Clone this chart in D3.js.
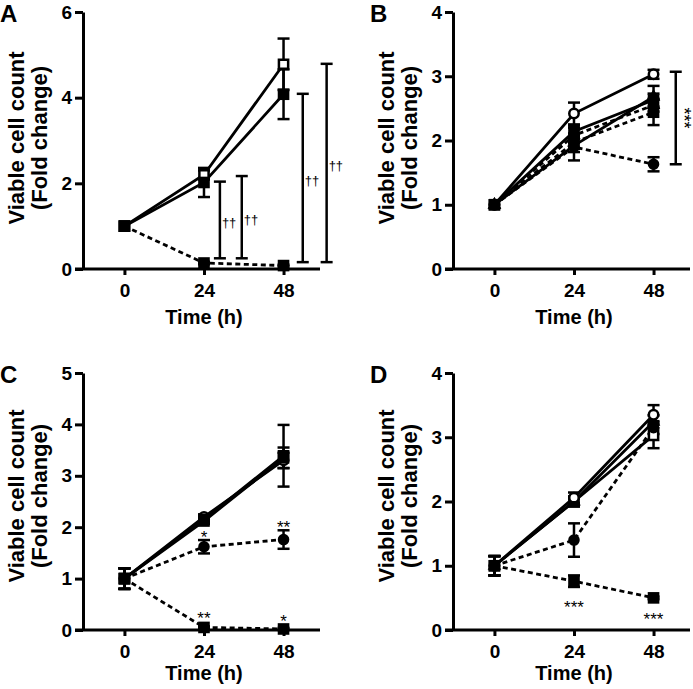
<!DOCTYPE html>
<html>
<head>
<meta charset="utf-8">
<script src="https://cdn.jsdelivr.net/npm/d3@7"></script>
<style>
  body { margin: 0; background: #fff; }
</style>
</head>
<body>
<div id="chart"></div>
<script>
// time points (h)
const hours = [0, 24, 48];

// Panel A
const aTicks = [0, 2, 4, 6];
const aOpenSq = [1, 2.2, 4.78],      aOpenSqErr = [0, 0.1, 0.6];
const aFilledSq = [1, 2.02, 4.08],   aFilledSqErr = [0, 0.34, 0.58];
const aSqDash = [1, 0.14, 0.08],     aSqDashErr = [0, 0.03, 0.02];
const aBracketX = [28.8, 35.4, 53.8, 61.0];
const aBracketLo = [0.25, 0.25, 0.16, 0.16];
const aBracketHi = [2.04, 2.17, 4.09, 4.79];

// Panel B
const bTicks = [0, 1, 2, 3, 4];
const bOpenCircle = [1, 2.42, 3.03],   bOpenCircleErr = [0, 0.17, 0.07];
const bFilledSq = [1, 2.14, 2.63],     bFilledSqErr = [0, 0.1, 0.1];
const bTriangle = [1, 1.92, 2.68],     bTriangleErr = [0, 0.1, 0.17];
const bTriangleDash = [1, 2.08, 2.55], bTriangleDashErr = [0, 0.12, 0.1];
const bSqDash = [1, 1.97, 2.44],       bSqDashErr = [0, 0.1, 0.2];
const bCircleDash = [1, 1.9, 1.63],    bCircleDashErr = [0, 0.21, 0.11];
const bBracketX = [54.7];
const bBracketLo = [1.63];
const bBracketHi = [3.07];

// Panel C
const cTicks = [0, 1, 2, 3, 4, 5];
const cOpenSq = [1, 2.15, 3.39],     cOpenSqErr = [0.2, 0.05, 0.6];
const cOpenCircle = [1, 2.2, 3.3],   cOpenCircleErr = [0.2, 0.05, 0.15];
const cFilledSq = [1, 2.12, 3.35],   cFilledSqErr = [0.2, 0.05, 0.2];
const cCircleDash = [1, 1.62, 1.76], cCircleDashErr = [0.2, 0.13, 0.18];
const cSqDash = [1, 0.05, 0.02],     cSqDashErr = [0.2, 0.02, 0.02];
const cStarX = [24, 48, 24, 48];
const cStarY = [1.89, 2.09, 0.31, 0.26];
const cStarText = ["*", "**", "**", "*"];

// Panel D
const dTicks = [0, 1, 2, 3, 4];
const dOpenCircle = [1, 2.06, 3.35], dOpenCircleErr = [0.15, 0.08, 0.15];
const dOpenSq = [1, 2.0, 3.03],      dOpenSqErr = [0.15, 0.08, 0.2];
const dTriangle = [1, 2.0, 3.24],    dTriangleErr = [0.15, 0.05, 0.1];
const dCircleDash = [1, 1.4, 3.15],  dCircleDashErr = [0.15, 0.26, 0.1];
const dSqDash = [1, 0.76, 0.5],      dSqDashErr = [0.15, 0.09, 0.02];
const dStarX = [24, 48];
const dStarY = [0.42, 0.23];
const dStarText = ["***", "***"];

const W = 693, H = 689;
const svg = d3.select("#chart").append("svg")
    .attr("width", W)
    .attr("height", H)
    .style("font-family", "Arial, 'Liberation Sans', sans-serif");

// one series: marker shape, open/filled, dashed line or not
const S = (mean, err, shape, open, dash) => ({ mean, err, shape, open, dash });

// drawn in order, so the last series ends up on top
const panels = [
  { letter: "A", left: 83, bottom: 269, ticks: aTicks, titleY: 138, timeY: 324,
    series: [
      S(aOpenSq, aOpenSqErr, "square", true, false),
      S(aFilledSq, aFilledSqErr, "square", false, false),
      S(aSqDash, aSqDashErr, "square", false, true)
    ],
    brackets: aBracketX.map((x, i) => ({ x, lo: aBracketLo[i], hi: aBracketHi[i], label: "††" })),
    stars: [] },
  { letter: "B", left: 453, bottom: 269, ticks: bTicks, titleY: 138, timeY: 324,
    series: [
      S(bOpenCircle, bOpenCircleErr, "circle", true, false),
      S(bTriangleDash, bTriangleDashErr, "triangle", false, true),
      S(bSqDash, bSqDashErr, "square", false, true),
      S(bCircleDash, bCircleDashErr, "circle", false, true),
      S(bTriangle, bTriangleErr, "triangle", false, false),
      S(bFilledSq, bFilledSqErr, "square", false, false)
    ],
    brackets: bBracketX.map((x, i) => ({ x, lo: bBracketLo[i], hi: bBracketHi[i], label: "***", rotate: true })),
    stars: [] },
  { letter: "C", left: 83, bottom: 630, ticks: cTicks, titleY: 496, timeY: 680,
    series: [
      S(cOpenCircle, cOpenCircleErr, "circle", true, false),
      S(cOpenSq, cOpenSqErr, "square", true, false),
      S(cCircleDash, cCircleDashErr, "circle", false, true),
      S(cSqDash, cSqDashErr, "square", false, true),
      S(cFilledSq, cFilledSqErr, "square", false, false)
    ],
    brackets: [],
    stars: cStarX.map((x, i) => ({ x, y: cStarY[i], t: cStarText[i] })) },
  { letter: "D", left: 453, bottom: 630, ticks: dTicks, titleY: 496, timeY: 680,
    series: [
      S(dOpenSq, dOpenSqErr, "square", true, false),
      S(dTriangle, dTriangleErr, "triangle", false, false),
      S(dOpenCircle, dOpenCircleErr, "circle", true, false),
      S(dSqDash, dSqDashErr, "square", false, true),
      S(dCircleDash, dCircleDashErr, "circle", false, true)
    ],
    brackets: [],
    stars: dStarX.map((x, i) => ({ x, y: dStarY[i], t: dStarText[i] })) }
];

const symbolFor = (shape, open) => {
  if (shape === "square") return d3.symbol(d3.symbolSquare, open ? 85 : 135);
  if (shape === "circle") return d3.symbol(d3.symbolCircle, open ? 70 : 105);
  return d3.symbol(d3.symbolTriangle, 80);
};

function drawPanel(p) {
  const x = d3.scaleLinear().domain([-12.5, 59]).range([p.left, p.left + 237]);
  const y = d3.scaleLinear().domain([0, d3.max(p.ticks)]).range([p.bottom, p.bottom - 257]);
  const g = svg.append("g");

  // panel letter
  g.append("text")
    .attr("x", p.left - 83)
    .attr("y", y.range()[1] + 10)
    .attr("font-size", 24)
    .attr("font-weight", "bold")
    .text(p.letter);

  // x axis
  g.append("g")
    .attr("transform", `translate(0,${p.bottom})`)
    .call(d3.axisBottom(x).tickValues(hours).tickSize(6).tickPadding(9))
    .call(a => a.select(".domain").remove())
    .call(a => a.selectAll(".tick line").attr("stroke", "#000").attr("stroke-width", 3))
    .call(a => a.selectAll(".tick text").attr("fill", "#000").attr("font-size", 19)
        .attr("font-weight", "bold").attr("font-family", null));
  g.append("line")
    .attr("x1", p.left - 8).attr("x2", x.range()[1])
    .attr("y1", p.bottom).attr("y2", p.bottom)
    .attr("stroke", "#000").attr("stroke-width", 3);

  // y axis
  g.append("g")
    .attr("transform", `translate(${p.left},0)`)
    .call(d3.axisLeft(y).tickValues(p.ticks).tickFormat(d3.format("d"))
        .tickSize(8).tickSizeOuter(0).tickPadding(3))
    .call(a => a.select(".domain").attr("stroke", "#000").attr("stroke-width", 3))
    .call(a => a.selectAll(".tick line").attr("stroke", "#000").attr("stroke-width", 3))
    .call(a => a.selectAll(".tick text").attr("fill", "#000").attr("font-size", 19)
        .attr("font-weight", "bold").attr("font-family", null));

  // axis titles
  [["Viable cell count", -59], ["(Fold change)", -36]].forEach(([t, dx]) => {
    g.append("text")
      .attr("transform", `translate(${p.left + dx},${p.titleY}) rotate(-90)`)
      .attr("text-anchor", "middle")
      .attr("font-size", 22)
      .attr("font-weight", "bold")
      .text(t);
  });
  g.append("text")
    .attr("x", x(24))
    .attr("y", p.timeY)
    .attr("text-anchor", "middle")
    .attr("font-size", 20)
    .attr("font-weight", "bold")
    .text("Time (h)");

  // lines
  const line = d3.line().x((d, i) => x(hours[i])).y(d => y(d));
  p.series.forEach(s => {
    g.append("path")
      .attr("d", line(s.mean))
      .attr("fill", "none")
      .attr("stroke", "#000")
      .attr("stroke-width", 2.8)
      .attr("stroke-dasharray", s.dash ? "5,3.5" : null);
  });

  // error bars
  p.series.forEach(s => {
    const eb = g.append("g").attr("stroke", "#000").attr("stroke-width", 2.5);
    s.mean.forEach((m, i) => {
      const e = s.err[i];
      if (!e) return;
      const cx = x(hours[i]);
      eb.append("line").attr("x1", cx).attr("x2", cx).attr("y1", y(m - e)).attr("y2", y(m + e));
      [m - e, m + e].forEach(v => {
        eb.append("line").attr("x1", cx - 6).attr("x2", cx + 6).attr("y1", y(v)).attr("y2", y(v));
      });
    });
  });

  // markers
  p.series.forEach(s => {
    g.append("g").selectAll("path")
      .data(s.mean)
      .join("path")
      .attr("transform", (d, i) => `translate(${x(hours[i])},${y(d)})`)
      .attr("d", symbolFor(s.shape, s.open))
      .attr("fill", s.open ? "#fff" : "#000")
      .attr("stroke", s.open ? "#000" : "none")
      .attr("stroke-width", 2.5);
  });

  // significance brackets
  p.brackets.forEach(b => {
    const bx = x(b.x);
    const bg = g.append("g").attr("stroke", "#000").attr("stroke-width", 2.5);
    bg.append("line").attr("x1", bx).attr("x2", bx).attr("y1", y(b.lo)).attr("y2", y(b.hi));
    [b.lo, b.hi].forEach(v => {
      bg.append("line").attr("x1", bx - 6).attr("x2", bx + 6).attr("y1", y(v)).attr("y2", y(v));
    });
    const mid = (y(b.lo) + y(b.hi)) / 2;
    if (b.rotate) {
      g.append("text")
        .attr("transform", `translate(${bx + 2},${mid}) rotate(90)`)
        .attr("text-anchor", "middle")
        .attr("font-size", 18)
        .attr("fill", "#000")
        .text(b.label);
    } else {
      g.append("text")
        .attr("x", bx + 2)
        .attr("y", mid + 7)
        .attr("font-size", 13)
        .attr("fill", "#000")
        .text(b.label);
    }
  });

  // asterisks
  p.stars.forEach(st => {
    g.append("text")
      .attr("x", x(st.x))
      .attr("y", y(st.y) + 10)
      .attr("text-anchor", "middle")
      .attr("font-size", 17)
      .attr("fill", "#000")
      .text(st.t);
  });
}

panels.forEach(drawPanel);
</script>
</body>
</html>
